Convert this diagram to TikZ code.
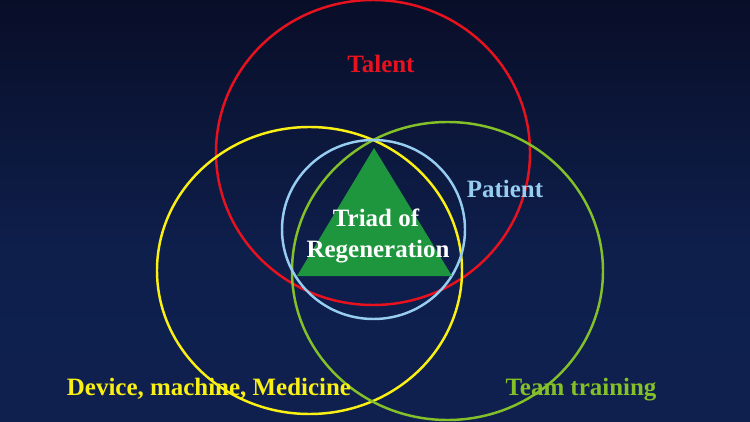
\documentclass[tikz,border=0pt]{standalone}
\usepackage{fontspec}
\setmainfont{Liberation Serif}
\usetikzlibrary{shapes.geometric}
\definecolor{bgB}{RGB}{16,34,82}
\definecolor{bgM}{RGB}{14,31,76}
\definecolor{bgU}{RGB}{9,14,40}
\definecolor{bgV}{RGB}{5,6,16}
\definecolor{bgT}{RGB}{8,7,10}
\definecolor{cRed}{RGB}{232,18,30}
\definecolor{cYel}{RGB}{250,240,20}
\definecolor{cGrn}{RGB}{132,192,40}
\definecolor{cBlu}{RGB}{150,205,240}
\definecolor{cTri}{RGB}{30,150,62}
\pgfdeclareverticalshading{bgshade}{100bp}{color(0bp)=(bgB); color(45bp)=(bgM); color(75bp)=(bgU); color(90bp)=(bgV); color(100bp)=(bgT)}
\begin{document}
\begin{tikzpicture}[x=0.02cm,y=-0.02cm,
  ring/.style={line width=1.4pt},
  lbl/.style={font=\fontsize{14.2}{16}\selectfont\bfseries, anchor=base, inner sep=0pt}]
\useasboundingbox (0,0) rectangle (750,422);
\shade[shading=bgshade] (0,0) rectangle (750,422);
% circles
\draw[ring, cRed] (373,152.5) ellipse [x radius=157, y radius=152.5];
\draw[ring, cYel] (309.5,270.5) ellipse [x radius=152.5, y radius=143.5];
\draw[ring, cGrn] (447.5,271) ellipse [x radius=155.5, y radius=149];
\draw[ring, cBlu] (373.5,229.5) ellipse [x radius=91.5, y radius=89.5];
% triangle
\fill[cTri] (374,148) -- (452,276) -- (297,276) -- cycle;
% labels
\node[lbl, text=cRed] (talent) at (381,73) {Talent};
\node[lbl, text=cBlu] (patient) at (505,197) {Patient};
\node[lbl, text=white] (triad1) at (376,227) {Triad of};
\node[lbl, text=white] (triad2) at (378,257) {Regeneration};
\node[lbl, text=cYel] (device) at (209,395) {Device, machine, Medicine};
\node[lbl, text=cGrn] (team) at (581,395) {Team training};
\end{tikzpicture}
\end{document}
